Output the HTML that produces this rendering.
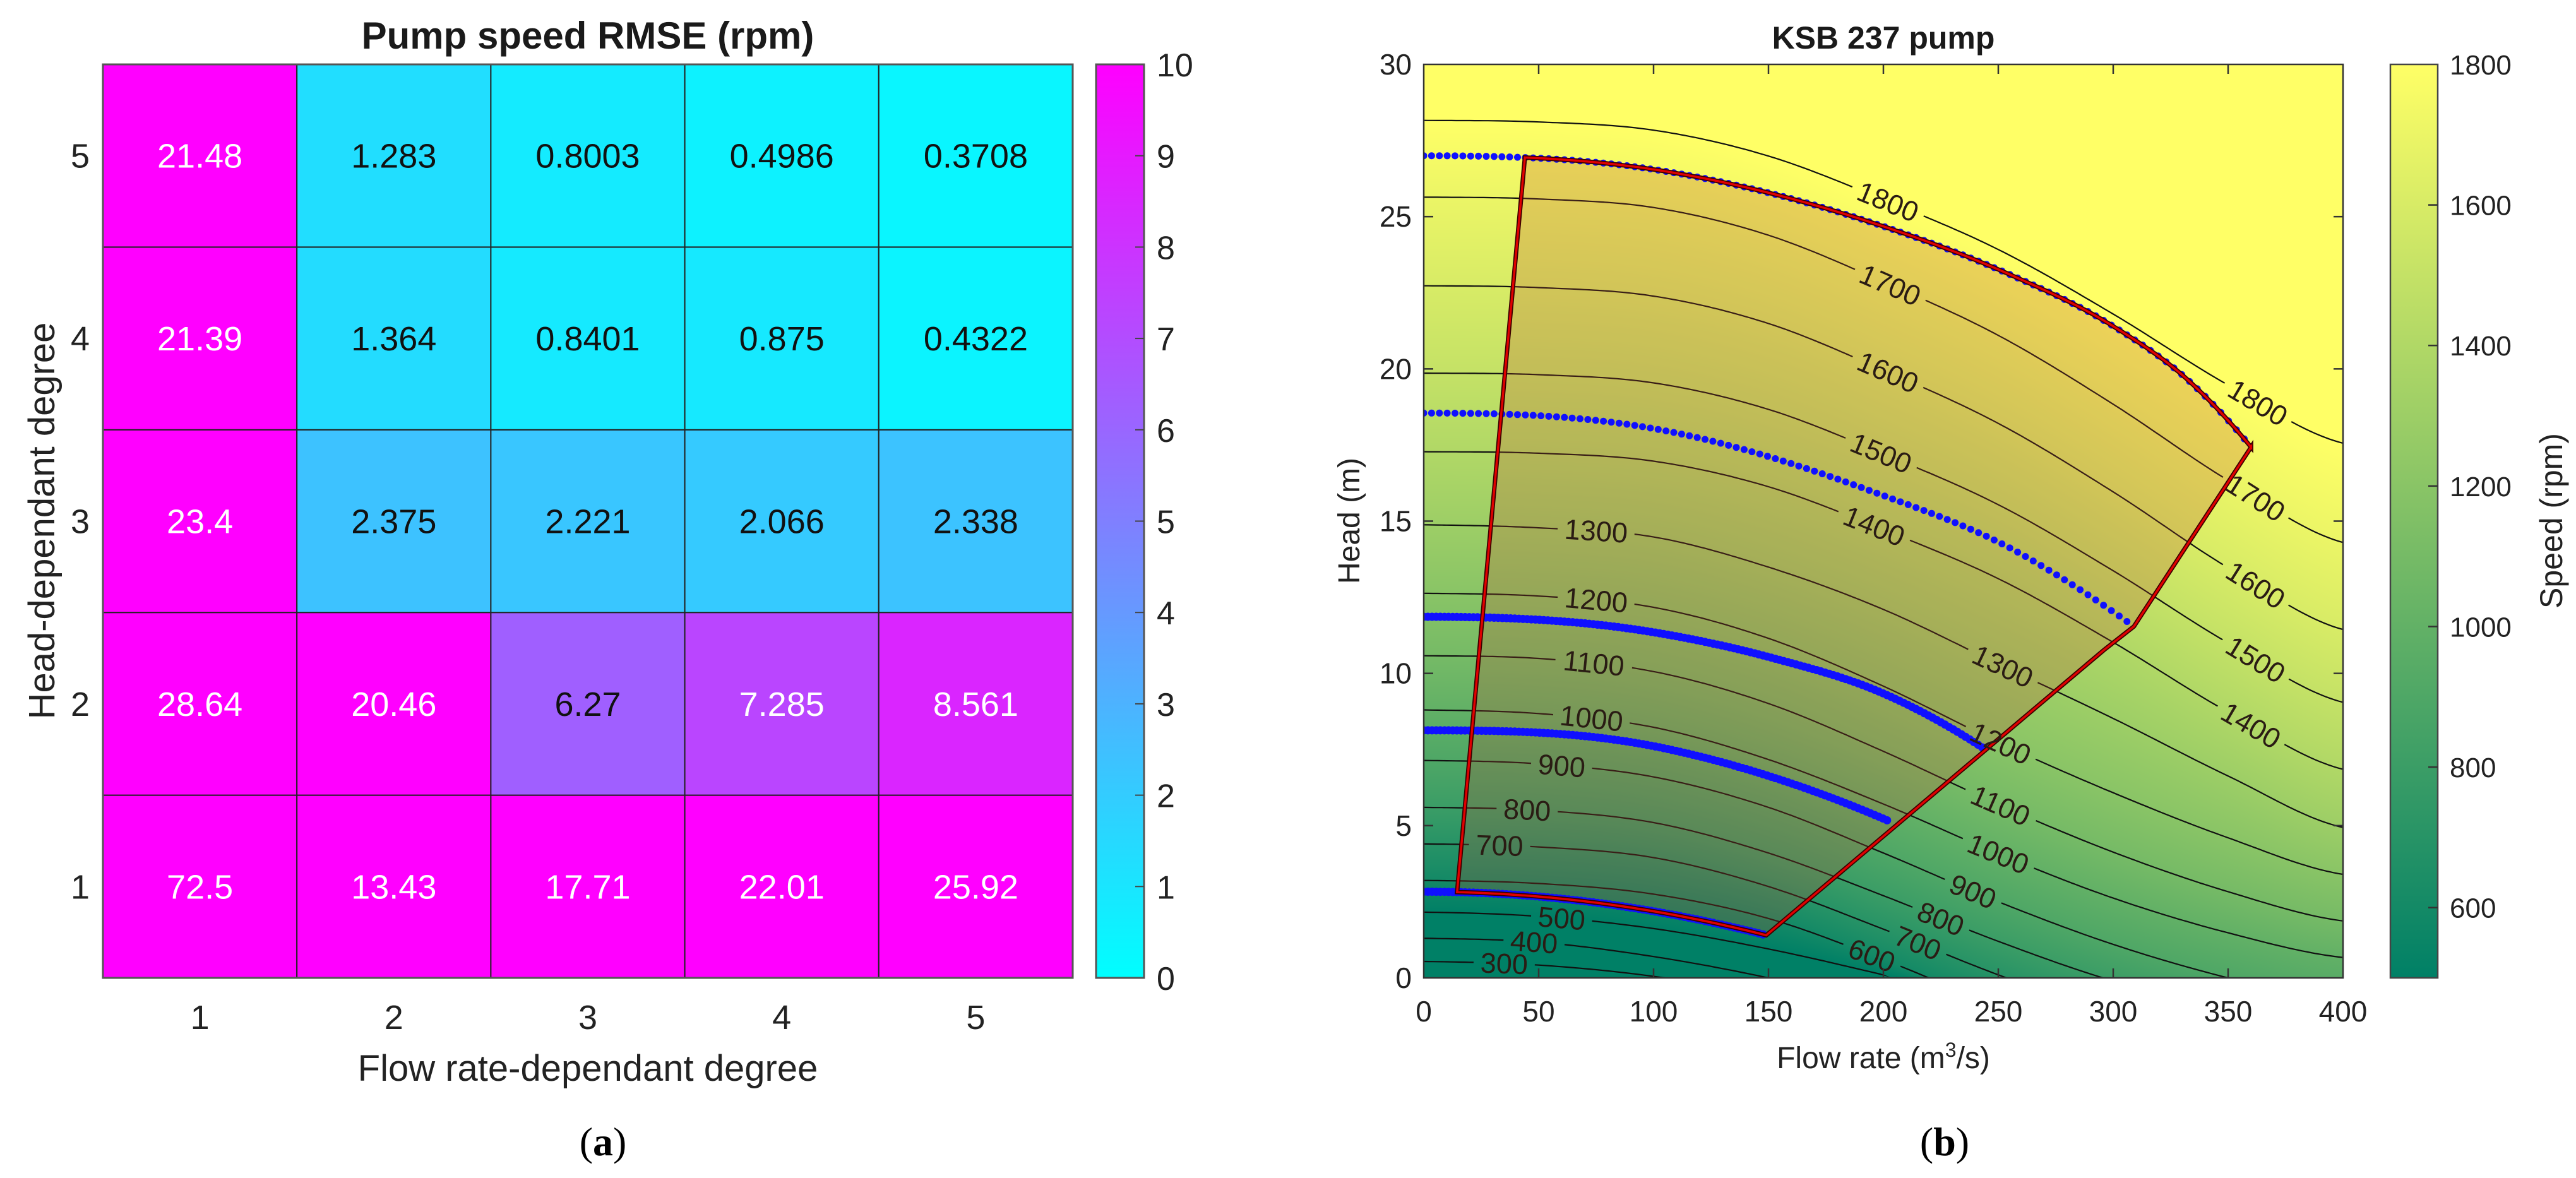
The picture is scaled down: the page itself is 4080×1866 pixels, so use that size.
<!DOCTYPE html>
<html><head><meta charset="utf-8"><style>
html,body{margin:0;padding:0;background:#fff;}
body{width:4080px;height:1866px;position:relative;overflow:hidden;font-family:"Liberation Sans",Arial,sans-serif;}
#field{position:absolute;left:2255px;top:102px;}
#chart{position:absolute;left:0;top:0;}
</style></head><body>
<canvas id="field" width="1456" height="1447"></canvas>
<svg id="chart" width="4080" height="1866">
<defs>
<linearGradient id="coolGrad" x1="0" y1="1" x2="0" y2="0"><stop offset="0" stop-color="rgb(0,255,255)"/><stop offset="1" stop-color="rgb(255,0,255)"/></linearGradient>
<linearGradient id="summerGrad" x1="0" y1="1" x2="0" y2="0"><stop offset="0" stop-color="rgb(0,128,102)"/><stop offset="1" stop-color="rgb(255,255,102)"/></linearGradient>
<clipPath id="plotClip"><rect x="2255" y="102" width="1456" height="1447"/></clipPath>
<mask id="labelMask" maskUnits="userSpaceOnUse" x="0" y="0" width="4080" height="1866"><rect x="0" y="0" width="4080" height="1866" fill="#fff"/><g id="maskHoles"></g></mask>
</defs>
<g id="leftPanel"></g>
<g id="rightPanel"></g>
</svg>
<script>
// ---------- Left heatmap data ----------
const flowDegrees = ['1','2','3','4','5'];
const headDegrees = ['1','2','3','4','5'];
const rmseHead1 = [72.5, 13.43, 17.71, 22.01, 25.92];
const rmseHead2 = [28.64, 20.46, 6.27, 7.285, 8.561];
const rmseHead3 = [23.4, 2.375, 2.221, 2.066, 2.338];
const rmseHead4 = [21.39, 1.364, 0.8401, 0.875, 0.4322];
const rmseHead5 = [21.48, 1.283, 0.8003, 0.4986, 0.3708];
const rmseRows = [rmseHead1, rmseHead2, rmseHead3, rmseHead4, rmseHead5];
const rmseColorTicks = [0,1,2,3,4,5,6,7,8,9,10];

// ---------- Right contour data (head in m at flow rates) ----------
const flowGrid = [0,50,100,150,200,250,300,350,400];
const speedLevels = [300,400,500,600,700,800,900,1000,1100,1200,1300,1400,1500,1600,1700,1800];
const head300 = [0.54,0.42,0.05,-0.6,-1.5,-2.5,-3.5,-4.5,-5.5];
const head400 = [1.3,1.17,0.7,0.0,-0.9,-2,-3,-4,-5];
const head500 = [2.16,2.02,1.62,0.95,0.1,-0.8,-1.8,-3,-4];
const head600 = [3.2,3.1,2.75,1.95,0.6,-0.9,-2,-3,-4];
const head700 = [4.4,4.3,3.95,3.0,1.6,0.1,-1.2,-2,-3];
const head800 = [5.6,5.5,5.1,4.1,2.7,1.2,-0.1,-1,-2];
const head900 = [7.14,7.03,6.6,5.6,4.1,2.5,1.1,0.0,-0.8];
const head1000 = [8.8,8.68,8.23,7.17,5.71,4.08,2.62,1.48,0.67];
const head1100 = [10.58,10.49,10.06,9.01,7.44,5.7,4.13,2.83,1.87];
const head1200 = [12.63,12.54,12.17,11.15,9.58,7.74,6.08,4.6,3.4];
const head1300 = [14.88,14.78,14.48,13.49,12.1,10.31,8.52,6.63,4.94];
const head1400 = [17.28,17.23,16.97,16.13,14.72,13.11,11.02,8.73,6.85];
const head1500 = [19.86,19.81,19.54,18.67,17.21,15.54,13.37,11.0,9.05];
const head1600 = [22.73,22.67,22.39,21.49,19.96,18.21,15.96,13.47,11.44];
const head1700 = [25.64,25.58,25.3,24.39,22.86,21.1,18.84,16.34,14.3];
const head1800 = [28.16,28.11,27.84,26.99,25.56,23.92,21.8,19.47,17.56];
const levelHeads = [head300,head400,head500,head600,head700,head800,head900,head1000,head1100,head1200,head1300,head1400,head1500,head1600,head1700,head1800];
const contourLabelLevel = [1800,1800,1700,1700,1600,1600,1500,1500,1400,1400,1300,1300,1200,1200,1100,1100,1000,1000,900,900,800,800,700,700,600,500,400,300];
const contourLabelQ =     [202,363,203,362,202,362,199,362,196,360,75,252,75,251,74,251,73,250,60,239,45,225,33,215,195,60,48,35];

// operating curves (blue dots)
const curve1Q = [0,100,200,255,300,332,360];
const curve1H = [27.0,26.55,24.68,23.1,21.4,19.67,17.43];
const curve2Q = [0,100,200,255,281,309];
const curve2H = [18.55,18.04,15.84,14.12,12.97,11.54];
const curve3Q = [0,100,153,200,244];
const curve3H = [11.86,11.35,10.48,9.34,7.52];
const curve4Q = [0,100,153,203];
const curve4H = [8.13,7.61,6.56,5.13];
const curve5Q = [0,77,149];
const curve5H = [2.83,2.45,1.4];
const curvesQ = [curve1Q,curve2Q,curve3Q,curve4Q,curve5Q];
const curvesH = [curve1H,curve2H,curve3H,curve4H,curve5H];
// operating envelope corners
const envTopStartQ = 44;
const envRightQ = [309, 296];
const envRightH = [11.54, 10.77];
const envBottomLeftQ = 14.5;

const xTicksFlow = [0,50,100,150,200,250,300,350,400];
const yTicksHead = [0,5,10,15,20,25,30];
const speedColorTicks = [600,800,1000,1200,1400,1600,1800];

// ---------- helpers ----------
const svg = document.getElementById('chart');
const NS = svg.namespaceURI;
function mk(tag, parent){ const e = document.createElementNS(NS, tag); parent.appendChild(e); return e; }
function set(e, o){ for (const k in o) e.setAttribute(k, o[k]); return e; }
function txt(parent, s, x, y, size, anchor, weight, fill){
  const t = mk('text', parent);
  set(t, {x:x, y:y, 'font-size':size, 'text-anchor':anchor||'middle', 'font-family':'Liberation Sans, Arial, sans-serif', fill:fill||'#222'});
  if (weight) t.setAttribute('font-weight', weight);
  t.textContent = s; return t;
}
const L = document.getElementById('leftPanel');
const R = document.getElementById('rightPanel');

// ---------- LEFT PANEL ----------
const gx0 = 163, gx1 = 1699, gy0 = 102, gy1 = 1549;
const cw = (gx1-gx0)/5, ch = (gy1-gy0)/5;
function coolColor(v){ const t = Math.max(0, Math.min(1, v/10)); return 'rgb('+Math.round(255*t)+','+Math.round(255*(1-t))+',255)'; }
for (let r = 0; r < 5; r++){
  for (let c = 0; c < 5; c++){
    const v = rmseRows[r][c];
    const x = gx0 + c*cw, y = gy1 - (r+1)*ch;
    const rect = mk('rect', L);
    set(rect, {x:x, y:y, width:cw, height:ch, fill:coolColor(v), stroke:'#222', 'stroke-width':2});
    
    
    const t = txt(L, String(v), x+cw/2, y+ch/2+19, 54, 'middle', null, v >= 7 ? '#fff' : '#111');
    
    
  }
}
const lb = mk('rect', L); set(lb, {x:gx0, y:gy0, width:gx1-gx0, height:gy1-gy0, fill:'none', stroke:'#555', 'stroke-width':3});


for (let c = 0; c < 5; c++){
  const t = txt(L, flowDegrees[c], gx0 + (c+0.5)*cw, 1630, 54);
  
  
}
for (let r = 0; r < 5; r++){
  const t = txt(L, headDegrees[r], 142, gy1 - (r+0.5)*ch + 19, 54, 'end');
  
  
}
let t0 = txt(L, 'Pump speed RMSE (rpm)', 931, 77, 60, 'middle', 'bold', '#1a1a1a');


t0 = txt(L, 'Flow rate-dependant degree', 931, 1712, 58);


t0 = txt(L, 'Head-dependant degree', 0, 0, 58);
t0.setAttribute('transform', 'translate(86,825) rotate(-90)');


// left colorbar
const cb = mk('rect', L); set(cb, {x:1736, y:gy0, width:76, height:gy1-gy0, fill:'url(#coolGrad)', stroke:'#555', 'stroke-width':3});


for (const v of rmseColorTicks){
  const y = gy1 - v/10*(gy1-gy0);
  if (v > 0 && v < 10){ const tk = mk('line', L); set(tk, {x1:1798, x2:1812, y1:y, y2:y, stroke:'#444', 'stroke-width':2});
    
     }
  const t = txt(L, String(v), 1832, y+19, 52, 'start');
  
  
}
const capA = mk('text', L);
set(capA, {x:955, y:1830, 'font-size':64, 'text-anchor':'middle', 'font-family':'Liberation Serif, serif', fill:'#000'});
capA.innerHTML = '(<tspan font-weight="bold">a</tspan>)';



// ---------- RIGHT PANEL ----------
const px0 = 2255, px1 = 3711, py0 = 102, py1 = 1549;
const xS = q => px0 + q*(px1-px0)/400;
const yS = h => py1 - h*(py1-py0)/30;
function interpGrid(arr, q){
  let u = q/50; let i = Math.floor(u); if (i < 0) i = 0; if (i > 7) i = 7; const t = u - i;
  const p0 = arr[Math.max(i-1,0)], p1 = arr[i], p2 = arr[i+1], p3 = arr[Math.min(i+2,8)];
  return 0.5*((2*p1) + (-p0+p2)*t + (2*p0-5*p1+4*p2-p3)*t*t + (-p0+3*p1-3*p2+p3)*t*t*t);
}
// smooth Hermite interpolation on non-uniform points (zero slope at Q=0)
function interpSmooth(qs, hs, q){
  const n = qs.length;
  if (q <= qs[0]) return hs[0];
  if (q >= qs[n-1]) return hs[n-1];
  const sec = []; for (let i = 0; i < n-1; i++) sec.push((hs[i+1]-hs[i])/(qs[i+1]-qs[i]));
  const m = [0];
  for (let i = 1; i < n-1; i++){
    const w1 = qs[i+1]-qs[i], w0 = qs[i]-qs[i-1];
    m.push((sec[i-1]*w1 + sec[i]*w0)/(w0+w1));
  }
  m.push(2*sec[n-2] - m[n-2]);
  let i = 0; while (q > qs[i+1]) i++;
  const hgt = qs[i+1]-qs[i], t = (q-qs[i])/hgt;
  const t2 = t*t, t3 = t2*t;
  return (2*t3-3*t2+1)*hs[i] + (t3-2*t2+t)*hgt*m[i] + (-2*t3+3*t2)*hs[i+1] + (t3-t2)*hgt*m[i+1];
}
// background field
(function(){
  const cv = document.getElementById('field'); const ctx = cv.getContext('2d');
  const W = cv.width, H = cv.height; const img = ctx.createImageData(W, H); const d = img.data;
  const nk = speedLevels.length; const hk = new Array(nk);
  for (let px = 0; px < W; px++){
    const q = (px+0.5)*400/W;
    for (let k = 0; k < nk; k++) hk[k] = interpGrid(levelHeads[k], q);
    for (let py = 0; py < H; py++){
      const h = 30 - (py+0.5)*30/H; let n;
      if (h >= hk[nk-1]) n = 1800 + (h-hk[nk-1])*50;
      else if (h < hk[0]) n = 300 - (hk[0]-h)*100;
      else { let k = 0; while (k < nk-1 && h >= hk[k+1]) k++; n = speedLevels[k] + 100*(h-hk[k])/Math.max(1e-6, hk[k+1]-hk[k]); }
      const t = Math.max(0, Math.min(1, (n-500)/1300));
      const o = (py*W+px)*4; d[o] = 255*t; d[o+1] = 255*(0.5+t/2); d[o+2] = 102; d[o+3] = 255;
    }
  }
  ctx.putImageData(img, 0, 0);
})();
const plotG = mk('g', R); plotG.setAttribute('clip-path', 'url(#plotClip)');


const holes = document.getElementById('maskHoles');
const labelG = mk('g', R);


for (let i = 0; i < contourLabelLevel.length; i++){
  const lev = contourLabelLevel[i], q = contourLabelQ[i];
  const arr = levelHeads[speedLevels.indexOf(lev)];
  const x = xS(q), y = yS(interpGrid(arr, q));
  const dx = xS(q+2)-xS(q-2), dy = yS(interpGrid(arr,q+2)) - yS(interpGrid(arr,q-2));
  const ang = Math.atan2(dy, dx)*180/Math.PI;
  const s = String(lev); const w = s.length*25 + 22;
  const hr = mk('rect', holes); set(hr, {x:-w/2, y:-22, width:w, height:44, fill:'#000', transform:'translate('+x+','+y+') rotate('+ang+')'});
  const t = txt(labelG, s, 0, 16, 45, 'middle', null, '#2a1c14');
  t.setAttribute('transform', 'translate('+x+','+y+') rotate('+ang+')');
  
  
}
const contourG = mk('g', plotG); contourG.setAttribute('mask', 'url(#labelMask)');


for (let k = 0; k < speedLevels.length; k++){
  let dstr = '';
  for (let q = 0; q <= 400; q += 2){ dstr += (q===0?'M':'L') + xS(q).toFixed(1) + ',' + yS(interpGrid(levelHeads[k], q)).toFixed(1); }
  const p = mk('path', contourG); set(p, {d:dstr, fill:'none', stroke:'#111', 'stroke-width':2.2});
  
  
}
(function(){
  let dstr = '';
  const q1e = curve1Q[curve1Q.length-1];
  for (let q = envTopStartQ; q <= q1e; q += 2){ dstr += (dstr?'L':'M') + xS(q).toFixed(1)+','+yS(interpSmooth(curve1Q, curve1H, q)).toFixed(1); }
  dstr += 'L'+xS(q1e)+','+yS(curve1H[curve1H.length-1]);
  for (let i = 0; i < envRightQ.length; i++) dstr += 'L'+xS(envRightQ[i])+','+yS(envRightH[i]);
  const qe = curve5Q[curve5Q.length-1];
  for (let q = qe; q >= envBottomLeftQ; q -= 2){ dstr += 'L'+xS(q).toFixed(1)+','+yS(interpSmooth(curve5Q, curve5H, q)).toFixed(1); }
  dstr += 'L'+xS(envBottomLeftQ)+','+yS(interpSmooth(curve5Q, curve5H, envBottomLeftQ))+'Z';
  const p = mk('path', plotG); set(p, {d:dstr, fill:'rgba(190,75,45,0.24)', stroke:'none'});
  
  
  for (let c = 0; c < curvesQ.length; c++){
    const g = mk('g', plotG);
    
    
    const qe2 = curvesQ[c][curvesQ[c].length-1]; const step = c >= 2 ? 1.8 : 3.4;
    for (let q = 0; q <= qe2 + 0.01; q += step){
      const dot = mk('circle', g); set(dot, {cx:xS(q).toFixed(1), cy:yS(interpSmooth(curvesQ[c], curvesH[c], q)).toFixed(1), r:c >= 2 ? 6.5 : 5.5, fill:'#1010ff'});
    }
  }
  const p2 = mk('path', plotG); set(p2, {d:dstr, fill:'none', stroke:'#3a0000', 'stroke-width':7});
  
  
  const p3 = mk('path', plotG); set(p3, {d:dstr, fill:'none', stroke:'#e00000', 'stroke-width':3.5});
  
  
})();
const box = mk('rect', R); set(box, {x:px0, y:py0, width:px1-px0, height:py1-py0, fill:'none', stroke:'#333', 'stroke-width':2.5});


for (const q of xTicksFlow){
  const x = xS(q);
  if (q > 0 && q < 400){
    const a = mk('line', R); set(a, {x1:x, x2:x, y1:py1, y2:py1-15, stroke:'#333', 'stroke-width':2.5});
    
    
    const b = mk('line', R); set(b, {x1:x, x2:x, y1:py0, y2:py0+15, stroke:'#333', 'stroke-width':2.5});
    
    
  }
  const t = txt(R, String(q), x, 1618, 46);
  
  
}
for (const h of yTicksHead){
  const y = yS(h);
  if (h > 0 && h < 30){
    const a = mk('line', R); set(a, {x1:px0, x2:px0+15, y1:y, y2:y, stroke:'#333', 'stroke-width':2.5});
    
    
    const b = mk('line', R); set(b, {x1:px1, x2:px1-15, y1:y, y2:y, stroke:'#333', 'stroke-width':2.5});
    
    
  }
  const t = txt(R, String(h), 2236, y+16, 46, 'end');
  
  
}
t0 = txt(R, 'KSB 237 pump', 2983, 77, 50, 'middle', 'bold', '#1a1a1a');


t0 = mk('text', R);
set(t0, {x:2983, y:1692, 'font-size':48, 'text-anchor':'middle', 'font-family':'Liberation Sans, Arial, sans-serif', fill:'#222'});
t0.innerHTML = 'Flow rate (m<tspan dy="-18" font-size="32">3</tspan><tspan dy="18">/s)</tspan>';


t0 = txt(R, 'Head (m)', 0, 0, 48);
t0.setAttribute('transform', 'translate(2153,825) rotate(-90)');


const cb2 = mk('rect', R); set(cb2, {x:3786, y:py0, width:75, height:py1-py0, fill:'url(#summerGrad)', stroke:'#444', 'stroke-width':2.5});


for (const v of speedColorTicks){
  const y = py1 - (v-500)/1300*(py1-py0);
  if (v < 1800){ const tk = mk('line', R); set(tk, {x1:3846, x2:3861, y1:y, y2:y, stroke:'#333', 'stroke-width':2.5});
    
     }
  const t = txt(R, String(v), 3880, y+16, 44, 'start');
  
  
}
t0 = txt(R, 'Speed (rpm)', 0, 0, 50);
t0.setAttribute('transform', 'translate(4058,825) rotate(-90)');


const capB = mk('text', R);
set(capB, {x:3080, y:1830, 'font-size':64, 'text-anchor':'middle', 'font-family':'Liberation Serif, serif', fill:'#000'});
capB.innerHTML = '(<tspan font-weight="bold">b</tspan>)';


</script>
</body></html>
